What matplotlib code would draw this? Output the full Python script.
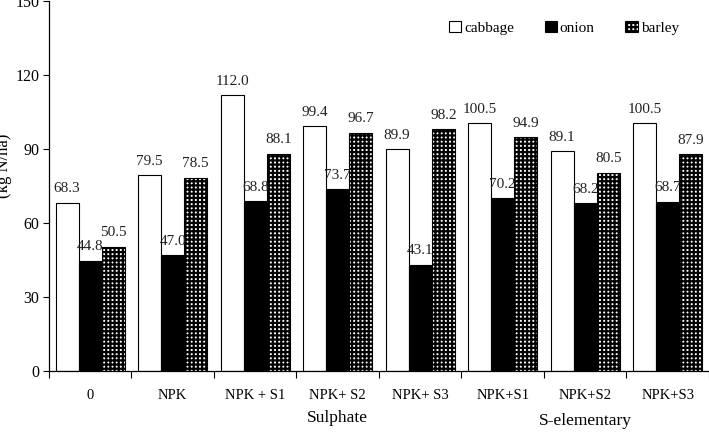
import numpy as np
import matplotlib
matplotlib.use("Agg")
import matplotlib.pyplot as plt
from matplotlib.ticker import FixedLocator

plt.rcParams['font.family'] = ['Liberation Serif', 'DejaVu Serif']
plt.rcParams['hatch.linewidth'] = 1.6

# data
treatments = ['0', 'NPK', 'NPK + S1', 'NPK+ S2', 'NPK+ S3', 'NPK+S1', 'NPK+S2', 'NPK+S3']
cabbage = [68.3, 79.5, 112.0, 99.4, 89.9, 100.5, 89.1, 100.5]
onion = [44.8, 47.0, 68.8, 73.7, 43.1, 70.2, 68.2, 68.7]
barley = [50.5, 78.5, 88.1, 96.7, 98.2, 94.9, 80.5, 87.9]
group_names = ['Sulphate', 'S-elementary']
group_pos = [3.0, 6.0]

fig = plt.figure(figsize=(7.09, 4.36), dpi=100)
ax = fig.add_axes([0.069, 0.149, 0.931, 0.848])

x = np.arange(len(treatments))
w = 0.28
b1 = ax.bar(x - w, cabbage, w, color='white', edgecolor='black', linewidth=0.8, label='cabbage')
b2 = ax.bar(x, onion, w, color='black', edgecolor='black', linewidth=0.8, label='onion')
b3 = ax.bar(x + w, barley, w, color='white', edgecolor='black', linewidth=0.8,
            hatch='++++', label='barley')

for bars, vals in [(b1, cabbage), (b2, onion), (b3, barley)]:
    for r, v in zip(bars, vals):
        ax.text(r.get_x() + r.get_width() / 2, v + 3, f'{v:.1f}', ha='center', va='bottom',
                fontsize=11, color='#222222')

ax.set_xlim(-0.5, len(treatments) - 0.5)
ax.set_ylim(0, 150)
ax.set_yticks([0, 30, 60, 90, 120, 150])
ax.tick_params(axis='y', labelsize=11.5, length=4, width=0.8, pad=3)
ax.set_xticks(x)
ax.set_xticklabels(treatments)
ax.tick_params(axis='x', which='major', length=0, labelsize=10.5, pad=13)
ax.xaxis.set_minor_locator(FixedLocator(np.arange(-0.5, len(treatments), 1)))
ax.tick_params(axis='x', which='minor', length=5, width=0.8)

for s in ['top', 'right']:
    ax.spines[s].set_visible(False)
for s in ['left', 'bottom']:
    ax.spines[s].set_linewidth(0.9)

ax.text(group_pos[0], -0.126, group_names[0], transform=ax.get_xaxis_transform(),
        ha='center', va='center', fontsize=12.5)
ax.text(group_pos[1], -0.136, group_names[1], transform=ax.get_xaxis_transform(),
        ha='center', va='center', fontsize=12.5)

fig.text(0.006, 0.62, '(kg N/ha)', rotation=90, ha='center', va='center', fontsize=12)

ax.legend(loc='upper right', bbox_to_anchor=(0.975, 0.985), ncol=3, frameon=False,
          fontsize=11, handlelength=0.8, handleheight=0.8, handletextpad=0.2,
          columnspacing=2.0)

fig.savefig('out.png', dpi=100)
